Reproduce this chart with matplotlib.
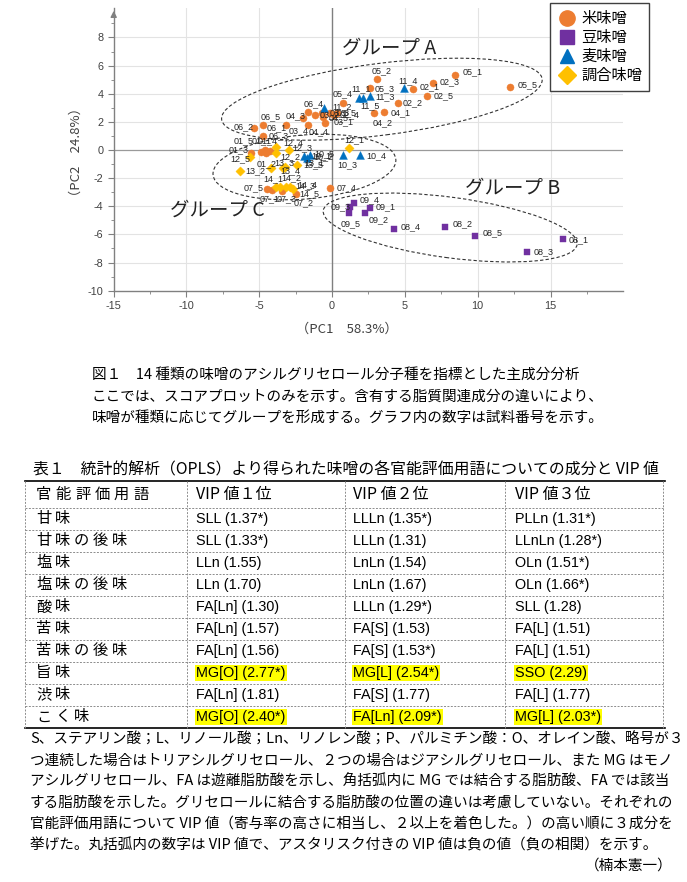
import matplotlib
matplotlib.use('Agg')
import matplotlib.pyplot as plt
from matplotlib import font_manager as fm
from matplotlib.patches import Ellipse
from matplotlib.lines import Line2D

plt.rcParams['axes.unicode_minus'] = False

W, H = 687, 882
JP = 'Noto Sans CJK JP'
_names = {f.name for f in fm.fontManager.ttflist}
NARROW = 'Liberation Sans Narrow' if 'Liberation Sans Narrow' in _names else 'Liberation Sans'
NARROW_SIZE = 11.5 if NARROW == 'Liberation Sans Narrow' else 10.4
LAT = 'Liberation Sans'

# ---------------- data ----------------
rice_names = ['01_1', '01_2', '01_3', '01_4', '01_5', '02_1', '02_2', '02_3', '02_4', '02_5',
              '03_1', '03_2', '03_3', '03_4', '03_5', '04_1', '04_2', '04_3', '04_4', '04_5',
              '05_1', '05_2', '05_3', '05_4', '05_5', '06_1', '06_2', '06_3', '06_4', '06_5',
              '07_1', '07_2', '07_3', '07_4', '07_5']
rice_x = [-4.64, -4.51, -5.60, -4.28, -4.87, 5.55, 4.53, 6.90, 0.11, 6.49,
          0.34, -1.15, -0.69, -1.67, -0.12, 3.59, 2.88, -1.99, -0.46, -0.62,
          8.46, 3.09, 2.60, 0.75, 12.23, -3.18, -5.38, -4.78, -1.67, -4.73,
          -4.13, -2.45, -3.43, -0.16, -4.50]
rice_y = [0.00, -0.23, -0.19, -0.05, -0.12, 4.34, 3.36, 4.74, 2.49, 3.81,
          2.61, 2.49, 2.61, 1.78, 2.61, 2.72, 2.60, 2.25, 1.90, 2.37,
          5.35, 5.02, 4.38, 3.36, 4.50, 1.78, 1.59, 1.00, 2.72, 1.78,
          -2.84, -3.13, -2.89, -2.72, -2.80]

soy_names = ['08_1', '08_2', '08_3', '08_4', '08_5', '09_1', '09_2', '09_3', '09_4', '09_5']
soy_x = [15.88, 7.77, 13.42, 4.23, 9.83, 2.58, 2.28, 1.26, 1.48, 1.14]
soy_y = [-6.35, -5.45, -7.25, -5.64, -6.11, -4.14, -4.46, -4.03, -3.79, -4.50]

barley_names = ['10_1', '10_2', '10_3', '10_4', '10_5', '11_1', '11_2', '11_3', '11_4', '11_5']
barley_x = [-1.95, -1.71, 0.75, 1.94, -1.49, 1.83, -0.53, 2.58, 4.94, 2.13]
barley_y = [-0.43, -0.59, -0.36, -0.36, -0.39, 3.72, 2.96, 3.84, 4.38, 3.72]

blend_names = ['12_1', '12_2', '12_3', '12_4', '12_5', '13_1', '13_2', '13_3', '13_4', '13_5',
               '14_1', '14_2', '14_3', '14_4', '14_5']
blend_x = [1.14, -3.82, -2.98, -3.82, -5.65, -3.25, -6.34, -3.36, -4.23, -2.40,
           -3.82, -3.55, -3.20, -2.91, -2.69]
blend_y = [0.12, -0.23, 0.00, 0.23, -0.52, -1.20, -1.47, -1.30, -1.30, -1.07,
           -2.61, -2.65, -2.65, -2.65, -2.77]

legend_labels = ['米味噌', '豆味噌', '麦味噌', '調合味噌']
x_label = '（PC1　58.3%）'
y_label = '（PC2　24.8%）'
group_labels = ['グループ A', 'グループ B', 'グループ C']

caption = ['図１　14 種類の味噌のアシルグリセロール分子種を指標とした主成分分析',
           'ここでは、スコアプロットのみを示す。含有する脂質関連成分の違いにより、',
           '味噌が種類に応じてグループを形成する。グラフ内の数字は試料番号を示す。']

table_title = '表１　統計的解析（OPLS）より得られた味噌の各官能評価用語についての成分と VIP 値'
table_headers = ['官能評価用語', 'VIP 値１位', 'VIP 値２位', 'VIP 値３位']
terms = ['甘味', '甘味の後味', '塩味', '塩味の後味', '酸味', '苦味', '苦味の後味', '旨味', '渋味', 'こく味']
vip1_comp = ['SLL', 'SLL', 'LLn', 'LLn', 'FA[Ln]', 'FA[Ln]', 'FA[Ln]', 'MG[O]', 'FA[Ln]', 'MG[O]']
vip1_val = [1.37, 1.33, 1.55, 1.70, 1.30, 1.57, 1.56, 2.77, 1.81, 2.40]
vip1_neg = [True, True, False, False, False, False, False, True, False, True]
vip2_comp = ['LLLn', 'LLLn', 'LnLn', 'LnLn', 'LLLn', 'FA[S]', 'FA[S]', 'MG[L]', 'FA[S]', 'FA[Ln]']
vip2_val = [1.35, 1.31, 1.54, 1.67, 1.29, 1.53, 1.53, 2.54, 1.77, 2.09]
vip2_neg = [True, False, False, False, True, False, True, True, False, True]
vip3_comp = ['PLLn', 'LLnLn', 'OLn', 'OLn', 'SLL', 'FA[L]', 'FA[L]', 'SSO', 'FA[L]', 'MG[L]']
vip3_val = [1.31, 1.28, 1.51, 1.66, 1.28, 1.51, 1.51, 2.29, 1.77, 2.03]
vip3_neg = [True, True, True, True, False, False, False, False, False, True]
highlight_threshold = 2.0

notes = ['S、ステアリン酸；L、リノール酸；Ln、リノレン酸；P、パルミチン酸：O、オレイン酸、略号が３',
         'つ連続した場合はトリアシルグリセロール、２つの場合はジアシルグリセロール、また MG はモノ',
         'アシルグリセロール、FA は遊離脂肪酸を示し、角括弧内に MG では結合する脂肪酸、FA では該当',
         'する脂肪酸を示した。グリセロールに結合する脂肪酸の位置の違いは考慮していない。それぞれの',
         '官能評価用語について VIP 値（寄与率の高さに相当し、２以上を着色した。）の高い順に３成分を',
         '挙げた。丸括弧内の数字は VIP 値で、アスタリスク付きの VIP 値は負の値（負の相関）を示す。']
credit = '（楠本憲一）'

# ---------------- styles ----------------
label_offsets = {  # (dx, dy) in pixels, dy positive = downwards
    '05_1': (7, -3), '05_5': (7, -2), '02_3': (7, -2), '02_1': (7, -2), '02_5': (7, -1),
    '02_2': (5, 0), '04_1': (6, 1), '04_2': (-1, 9), '05_2': (-5, -9), '05_3': (5, 0),
    '11_4': (-6, -8), '11_1': (-7, -9), '11_3': (6, 1), '11_5': (-3, 8), '05_4': (-10, -9),
    '11_2': (8, -2), '06_4': (-4, -8), '04_3': (-18, -3), '06_5': (-3, -8), '06_1': (-19, 3),
    '06_2': (-20, -1), '06_3': (6, 0), '03_4': (-19, 6), '04_4': (-17, 8), '03_1': (-3, 8),
    '03_2': (4, 0), '03_3': (8, -1), '04_5': (6, 1), '03_5': (6, -1), '02_4': (6, 0),
    '01_1': (-13, -9), '01_2': (-10, 10), '01_3': (-22, -3), '01_4': (-12, -10), '01_5': (-28, -11),
    '07_1': (-12, 9), '07_2': (-3, 9), '07_3': (-6, 8), '07_4': (7, -1), '07_5': (-23, -2),
    '08_1': (5, 0), '08_2': (7, -3), '08_3': (6, 0), '08_4': (7, -3), '08_5': (7, -3),
    '09_1': (6, -2), '09_2': (3, 7), '09_3': (-20, 0), '09_4': (6, -4), '09_5': (-8, 10),
    '10_1': (8, 0), '10_2': (6, -2), '10_3': (-6, 10), '10_4': (6, 1), '10_5': (4, -2),
    '12_1': (-4, -9), '12_2': (4, 3), '12_3': (4, -2), '12_4': (7, -4), '12_5': (-20, 1),
    '13_1': (20, -4), '13_2': (6, 0), '13_3': (-9, -6), '13_4': (10, 2), '13_5': (6, 0),
    '14_1': (-13, -8), '14_2': (1, -10), '14_3': (10, -2), '14_4': (8, -3), '14_5': (6, 5),
}

groups = [
    (rice_names, rice_x, rice_y, 'o', '#ED7D31', 26),
    (soy_names, soy_x, soy_y, 's', '#7030A0', 24),
    (barley_names, barley_x, barley_y, '^', '#0070C0', 32),
    (blend_names, blend_x, blend_y, 'D', '#FFC000', 22),
]

fig = plt.figure(figsize=(W / 100, H / 100), dpi=100)
fig.patch.set_facecolor('white')


def fx(x):
    return x / W


def fy(y):
    return 1 - y / H


def spaced_text(x, y, text, pitch, **kw):
    """Draw text with fixed pitch per full-width character."""
    cx = x
    for ch in text:
        fig.text(fx(cx), fy(y), ch, ha='left', va='center', **kw)
        cx += pitch


# ---------------- scatter axes ----------------
ax_l, ax_r, ax_t, ax_b = 113.7, 623.3, 8.0, 290.7
ax = fig.add_axes([fx(ax_l), fy(ax_b), (ax_r - ax_l) / W, (ax_b - ax_t) / H])
ax.set_xlim(-15, 20)
ax.set_ylim(-10, -10 + (ax_b - ax_t) / 14.07)
ax.set_xticks([-15, -10, -5, 0, 5, 10, 15])
ax.set_xticks([-12.5, -7.5, -2.5, 2.5, 7.5, 12.5, 17.5], minor=True)
ax.set_yticks([-10, -8, -6, -4, -2, 0, 2, 4, 6, 8])
ax.set_yticks([-9, -7, -5, -3, -1, 1, 3, 5, 7, 9], minor=True)
for s in ['top', 'right']:
    ax.spines[s].set_visible(False)
for s in ['left', 'bottom']:
    ax.spines[s].set_color('#808080')
    ax.spines[s].set_linewidth(1.0)
ax.tick_params(which='both', colors='#808080', labelcolor='#404040', labelsize=7.8, direction='out')
ax.tick_params(which='major', length=4)
ax.tick_params(which='minor', length=2.5)
for lab in ax.get_xticklabels() + ax.get_yticklabels():
    lab.set_fontfamily(LAT)
for v in [-10, -5, 5, 10, 15]:
    ax.axvline(v, color='#e3e3e3', lw=0.8, zorder=0)
for v in [-8, -6, -4, -2, 2, 4, 6, 8]:
    ax.axhline(v, color='#e3e3e3', lw=0.8, zorder=0)
ax.axvline(0, color='#7f7f7f', lw=1.0, zorder=1)
ax.axhline(0, color='#9a9a9a', lw=0.9, zorder=1)
ax.annotate('', xy=(0, 1.0), xycoords='axes fraction', xytext=(0, 0.96),
            arrowprops=dict(arrowstyle='-|>', color='#808080', lw=1.0, mutation_scale=9),
            annotation_clip=False)

for names, xs, ys, m, c, s in groups:
    ax.scatter(xs, ys, marker=m, s=s, color=c, edgecolors=c, linewidths=0.3, zorder=3)

for names, xs, ys, m, c, s in groups:
    for n, x, y in zip(names, xs, ys):
        dx, dy = label_offsets.get(n, (5, 0))
        ax.annotate(n, (x, y), xytext=(dx, -dy), textcoords='offset pixels',
                    ha='left', va='center', fontsize=6.5, family=LAT, color='#262626', zorder=4)

ell_kw = dict(fill=False, edgecolor='#333333', lw=0.8, linestyle=(0, (3, 2)), zorder=2)
ax.add_patch(Ellipse((3.42, 3.61), 22.2, 5.1, angle=7.5, **ell_kw))
ax.add_patch(Ellipse((8.11, -5.51), 17.6, 4.3, angle=-7.9, **ell_kw))
ax.add_patch(Ellipse((-1.9, -1.21), 12.6, 4.55, angle=5, **ell_kw))

ax.text(3.9, 7.25, group_labels[0], fontsize=14, family=JP, ha='center', va='center', color='#222222')
ax.text(12.4, -2.7, group_labels[1], fontsize=14, family=JP, ha='center', va='center', color='#222222')
ax.text(-7.85, -4.26, group_labels[2], fontsize=14, family=JP, ha='center', va='center', color='#222222')

handles = [Line2D([], [], marker=g[3], color=g[4], linestyle='None',
                  markersize={'o': 11, 's': 9.5, '^': 10.5, 'D': 9}[g[3]]) for g in groups]
leg = fig.legend(handles, legend_labels, loc='upper left', bbox_to_anchor=(fx(550), fy(3)),
                 prop={'family': JP, 'size': 11}, frameon=True, fancybox=False, framealpha=1,
                 edgecolor='#404040', borderpad=0.45, labelspacing=0.14, handlelength=1.3,
                 handletextpad=0.3, borderaxespad=0)
leg.get_frame().set_linewidth(1.0)

fig.text(fx(347), fy(329), x_label, fontsize=9.5, family=JP, ha='center', va='center', color='#404040')
fig.text(fx(76), fy(152), y_label, fontsize=9.5, family=JP, ha='center', va='center',
         rotation=90, color='#404040')

# ---------------- caption ----------------
for i, line in enumerate(caption):
    fig.text(fx(92), fy(375 + 21.5 * i), line, fontsize=10.5, family=JP, ha='left', va='center')

# ---------------- table ----------------
fig.text(fx(33), fy(470), table_title, fontsize=11.4, family=JP, ha='left', va='center')
t_left, t_right = 25, 663
col_x = [25, 187, 345, 505, 663]
top, header_bot, row_h, n_rows = 481, 508, 22, len(terms)
bottom = header_bot + row_h * n_rows

fig.add_artist(Line2D([fx(t_left), fx(t_right + 2)], [fy(top), fy(top)], color='black', lw=1.2))
fig.add_artist(Line2D([fx(t_left), fx(t_right + 2)], [fy(bottom), fy(bottom)], color='black', lw=1.2))
dash = dict(color='#8c8c8c', lw=0.7, linestyle=(0, (2, 1.5)))
for i in range(n_rows):
    yy = header_bot + row_h * i
    fig.add_artist(Line2D([fx(t_left), fx(t_right)], [fy(yy), fy(yy)], **dash))
for xx in col_x:
    fig.add_artist(Line2D([fx(xx), fx(xx)], [fy(top), fy(bottom)], **dash))

text_x = [36, 196, 353, 515]
hdr_y = (top + header_bot) / 2
spaced_text(text_x[0], hdr_y, table_headers[0], 19.5, fontsize=11, family=JP)
for j, h in enumerate(table_headers[1:]):
    fig.text(fx(text_x[j + 1]), fy(hdr_y), h, fontsize=11.5, family=JP, ha='left', va='center')

vip_cols = [(vip1_comp, vip1_val, vip1_neg), (vip2_comp, vip2_val, vip2_neg), (vip3_comp, vip3_val, vip3_neg)]
for i, term in enumerate(terms):
    yc = header_bot + row_h * i + row_h / 2
    spaced_text(text_x[0], yc, term, 19, fontsize=11, family=JP)
    for j, (comp, val, neg) in enumerate(vip_cols):
        s = f"{comp[i]} ({val[i]:.2f}{'*' if neg[i] else ''})"
        kw = {}
        if val[i] >= highlight_threshold:
            kw['bbox'] = dict(facecolor='#FFFF00', edgecolor='none', pad=0.8)
        fig.text(fx(text_x[j + 1]), fy(yc), s, fontsize=NARROW_SIZE, family=NARROW,
                 ha='left', va='center', **kw)

# ---------------- notes ----------------
for i, line in enumerate(notes):
    fig.text(fx(30), fy(740 + 21 * i), line, fontsize=10.5, family=JP, ha='left', va='center')
fig.text(fx(673), fy(866), credit, fontsize=10.5, family=JP, ha='right', va='center')

fig.savefig('out.png', dpi=100, facecolor='white')
